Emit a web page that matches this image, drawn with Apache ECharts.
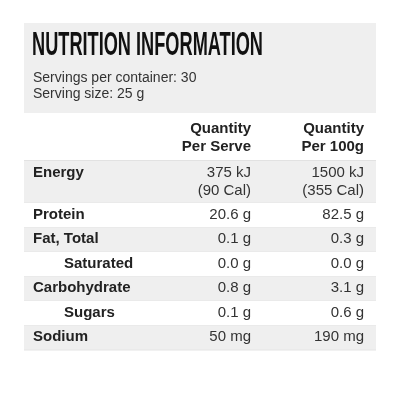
<!DOCTYPE html><html><head><meta charset="utf-8">
<script src="https://cdn.jsdelivr.net/npm/echarts@6/dist/echarts.min.js"></script>
<style>html,body{margin:0;background:#fff}#c{width:400px;height:400px}</style></head><body><div id="c"></div>
<script>
const title = "NUTRITION INFORMATION";
const subLines = ["Servings per container: 30", "Serving size: 25 g"];
const colHeaders = [["Quantity","Per Serve"],["Quantity","Per 100g"]];
const nutrients = ["Energy","Protein","Fat, Total","Saturated","Carbohydrate","Sugars","Sodium"];
const indented = [false,false,false,true,false,true,false];
const perServe = [["375 kJ","(90 Cal)"],["20.6 g"],["0.1 g"],["0.0 g"],["0.8 g"],["0.1 g"],["50 mg"]];
const per100g = [["1500 kJ","(355 Cal)"],["82.5 g"],["0.3 g"],["0.0 g"],["3.1 g"],["0.6 g"],["190 mg"]];

const F = "'Liberation Sans', Arial, sans-serif";
const TF = "bold 33px 'Liberation Sans', sans-serif";
const cv=document.createElement('canvas').getContext('2d'); cv.font=TF;
const tw=cv.measureText(title).width;
const g = [];
g.push({type:'rect',shape:{x:24,y:23,width:352,height:90},style:{fill:'#efefef'}});
g.push({type:'text',x:32,y:62,scaleX:231/tw,style:{text:title,font:TF,fill:'#111',textVerticalAlign:'bottom'}});
subLines.forEach((s,i)=>g.push({type:'text',x:33,y:71+i*16,style:{text:s,font:"14px "+F,fill:'#333'}}));
const c1=251,c2=364;
colHeaders[0].forEach((s,i)=>g.push({type:'text',x:c1,y:121+i*18,style:{text:s,font:"bold 15px "+F,fill:'#222',align:'right'}}));
colHeaders[1].forEach((s,i)=>g.push({type:'text',x:c2,y:121+i*18,style:{text:s,font:"bold 15px "+F,fill:'#222',align:'right'}}));
g.push({type:'line',shape:{x1:24,y1:160.5,x2:376,y2:160.5},style:{stroke:'#e2e2e2',lineWidth:1}});
let y=161;
nutrients.forEach((n,i)=>{
  const h = perServe[i].length>1?42:24.5;
  g.push({type:'rect',shape:{x:24,y:y,width:352,height:h},style:{fill:i%2===0?'#efefef':'#fff'}});
  g.push({type:'line',shape:{x1:24,y1:y+h,x2:376,y2:y+h},style:{stroke:'#e4e4e4',lineWidth:1}});
  const ty=y+4;
  g.push({type:'text',x:indented[i]?64:33,y:ty,style:{text:n,font:"bold 15px "+F,fill:'#222'}});
  perServe[i].forEach((s,k)=>g.push({type:'text',x:c1,y:ty+k*18,style:{text:s,font:"15px "+F,fill:'#333',align:'right'}}));
  per100g[i].forEach((s,k)=>g.push({type:'text',x:c2,y:ty+k*18,style:{text:s,font:"15px "+F,fill:'#333',align:'right'}}));
  y+=h;
});
const ch=echarts.init(document.getElementById('c'));
ch.setOption({backgroundColor:'#fff',graphic:{elements:g}});
</script></body></html>
